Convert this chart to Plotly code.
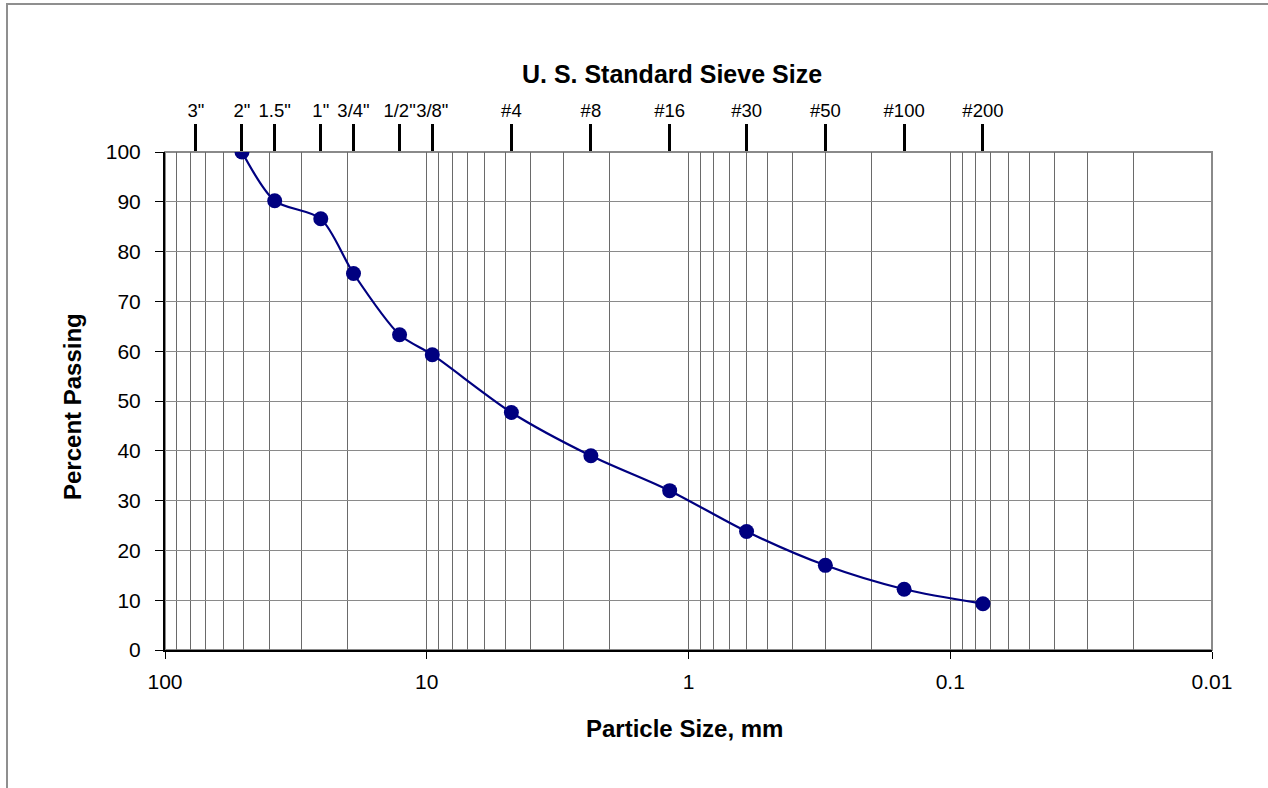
import plotly.graph_objects as go

# Data
particle_size_mm = [50.8, 38.1, 25.4, 19.05, 12.7, 9.525, 4.75, 2.36, 1.18, 0.6, 0.3, 0.15, 0.075]
percent_passing = [100, 90.2, 86.6, 75.6, 63.3, 59.3, 47.7, 39.0, 32.0, 23.8, 17.0, 12.2, 9.3]

sieve_sizes_mm = [76.2, 50.8, 38.1, 25.4, 19.05, 12.7, 9.525, 4.75, 2.36, 1.18, 0.6, 0.3, 0.15, 0.075]
sieve_labels = ['3"', '2"', '1.5"', '1"', '3/4"', '1/2"', '3/8"', '#4', '#8', '#16', '#30', '#50', '#100', '#200']

decade_vals = [100, 10, 1, 0.1, 0.01]
decade_labels = ["100", "10", "1", "0.1", "0.01"]
minor_vals = [m * d for d in [10, 1, 0.1, 0.01] for m in range(2, 10)]

y_ticks = list(range(0, 101, 10))

FONT = "Liberation Sans, Arial, sans-serif"
W, H = 1268, 788
L, R, T, B = 165, 56, 152, 138
pw, ph = W - L - R, H - T - B


def px_x(px):
    return (px - L) / pw


def px_y(py):
    return (H - B - py) / ph


fig = go.Figure()
fig.add_trace(go.Scatter(
    x=particle_size_mm, y=percent_passing,
    mode="lines+markers",
    line=dict(color="#000080", width=2.2, shape="spline", smoothing=0.8),
    marker=dict(color="#000080", size=15),
    showlegend=False, xaxis="x", yaxis="y",
))
# invisible trace to activate top axis
fig.add_trace(go.Scatter(x=[sieve_sizes_mm[0]], y=[None], xaxis="x2", yaxis="y",
                         showlegend=False, hoverinfo="skip"))

fig.update_layout(
    width=W, height=H,
    margin=dict(l=L, r=R, t=T, b=B, pad=0),
    paper_bgcolor="white", plot_bgcolor="white",
    font=dict(family=FONT, color="black", size=21),
    xaxis=dict(
        type="log", range=[2, -2], tickmode="array",
        tickvals=decade_vals, ticktext=decade_labels,
        ticks="outside", ticklen=7, tickcolor="black", tickwidth=1,
        showline=True, linecolor="black", linewidth=2,
        showgrid=True, gridcolor="#6a6a6a", gridwidth=1,
        minor=dict(tickmode="array", tickvals=minor_vals, showgrid=True,
                   gridcolor="#6a6a6a", gridwidth=1, ticks=""),
        tickfont=dict(size=21), ticklabelstandoff=5, tickangle=0,
        zeroline=False, fixedrange=True,
    ),
    xaxis2=dict(
        type="log", range=[2, -2], overlaying="x", side="top",
        tickmode="array", tickvals=sieve_sizes_mm, ticktext=sieve_labels,
        ticks="outside", ticklen=27, tickcolor="black", tickwidth=2.5,
        showline=False, showgrid=False, zeroline=False,
        tickfont=dict(size=18.5), ticklabelstandoff=0, tickangle=0,
    ),
    yaxis=dict(
        range=[0, 100], tickmode="array", tickvals=y_ticks,
        ticks="outside", ticklen=8, tickcolor="black", tickwidth=1,
        showline=True, linecolor="black", linewidth=2,
        showgrid=True, gridcolor="#8a8a8a", gridwidth=1,
        tickfont=dict(size=21), ticklabelstandoff=10,
        zeroline=False,
    ),
    title=dict(text="<b>U. S. Standard Sieve Size</b>", x=672 / W, y=1 - 74 / H,
               xanchor="center", yanchor="middle", xref="container",
               yref="container", font=dict(size=25, family=FONT)),
    shapes=[
        dict(type="rect", xref="paper", yref="paper", x0=0, x1=1, y0=0, y1=1,
             line=dict(color="#8a8a8a", width=2), layer="below"),
        dict(type="rect", xref="paper", yref="paper",
             x0=px_x(7), x1=px_x(W + 40), y0=px_y(H + 40), y1=px_y(4),
             line=dict(color="#8f8f8f", width=2), layer="below"),
    ],
    annotations=[
        dict(text="<b>Particle Size, mm</b>", xref="paper", yref="paper",
             x=px_x(684), y=px_y(728), showarrow=False, xanchor="center", yanchor="middle",
             font=dict(size=24, family=FONT)),
        dict(text="<b>Percent Passing</b>", xref="paper", yref="paper",
             x=px_x(72), y=px_y(407), showarrow=False, textangle=-90,
             xanchor="center", yanchor="middle", font=dict(size=24, family=FONT)),
    ],
)

fig.write_html(
    "out.html",
    config={"displayModeBar": False},
    post_script="document.body.style.margin='0';document.body.style.overflow='hidden';",
)
